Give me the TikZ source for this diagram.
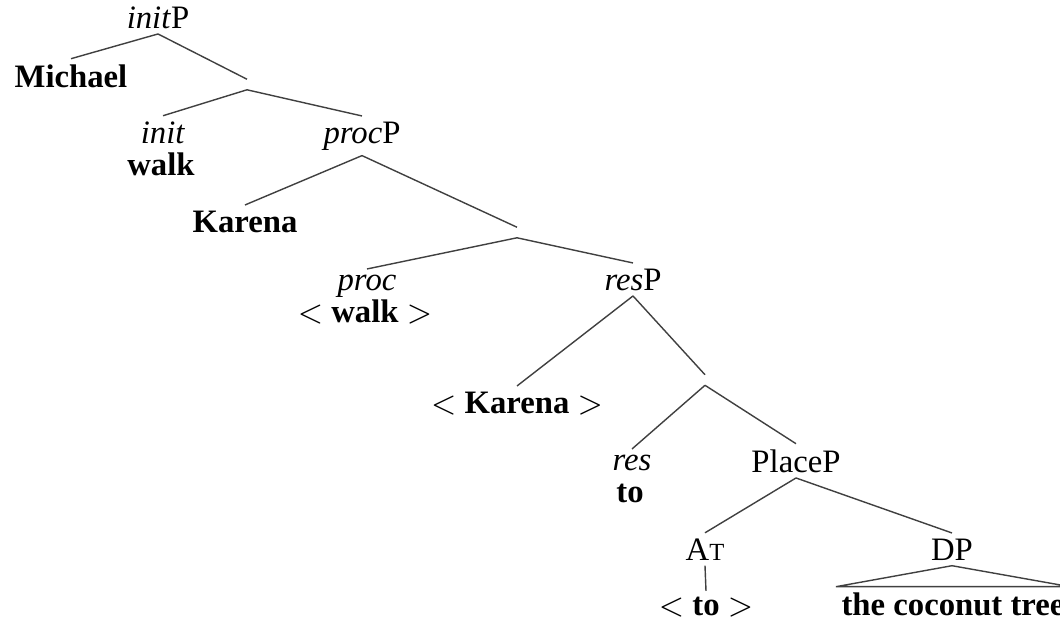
\documentclass[tikz,border=0pt]{standalone}
\usepackage{fontspec}
\setmainfont{Liberation Serif}
\usetikzlibrary{positioning}

\begin{document}
\begin{tikzpicture}[x=0.01cm, y=-0.01cm,
    font=\fontsize{9.3}{9.3}\selectfont,
    cat/.style={inner sep=1.4pt, anchor=base},
    word/.style={inner sep=1.4pt, anchor=base, font=\fontsize{9.3}{9.3}\selectfont\bfseries},
    bar/.style={inner sep=0pt, minimum height=2.6pt, minimum width=0pt},
    branch/.style={draw=black!75, line width=0.4pt}]
  \useasboundingbox (0,0) rectangle (1060,620);
  \clip (0,0) rectangle (1060,620);

  % --- initP ---
  \node[cat] (initP) at (158,28) {\textit{init}P};
  \node[word] (michael) at (71,87) {Michael};
  \node[bar] (b1) at (247,84.5) {};
  \node[cat] (init) at (163,143) {\textit{init}};
  \node[word] (walk) at (161,175) {walk};

  % --- procP ---
  \node[cat] (procP) at (362,143) {\textit{proc}P};
  \node[word] (karena) at (245,232) {Karena};
  \node[bar] (b2) at (517,232.5) {};
  \node[cat] (proc) at (367,290) {\textit{proc}};
  \node[word] (walkcopy) at (365,322) {$<$ walk $>$};

  % --- resP ---
  \node[cat] (resP) at (633,290) {\textit{res}P};
  \node[word] (karenacopy) at (517,413) {$<$ Karena $>$};
  \node[bar] (b3) at (705,380) {};
  \node[cat] (res) at (632,470) {\textit{res}};
  \node[word] (to) at (630,502) {to};

  % --- PlaceP ---
  \node[cat] (placeP) at (796,472) {PlaceP};
  \node[cat] (at) at (705,560) {A{\fontsize{7}{7}\selectfont T}};
  \node[word] (tocopy) at (706,615) {$<$ to $>$};
  \node[cat] (DP) at (952,560) {DP};
  \node[word] (tree) at (953,615) {the coconut tree};

  % Branches
  \draw[branch] (initP.south) -- (michael.north);
  \draw[branch] (initP.south) -- (b1.north);
  \draw[branch] (b1.south) -- (init.north);
  \draw[branch] (b1.south) -- (procP.north);
  \draw[branch] (procP.south) -- (karena.north);
  \draw[branch] (procP.south) -- (b2.north);
  \draw[branch] (b2.south) -- (proc.north);
  \draw[branch] (b2.south) -- (resP.north);
  \draw[branch] (resP.south) -- (karenacopy.north);
  \draw[branch] (resP.south) -- (b3.north);
  \draw[branch] (b3.south) -- (res.north);
  \draw[branch] (b3.south) -- (placeP.north);
  \draw[branch] (placeP.south) -- (at.north);
  \draw[branch] (placeP.south) -- (DP.north);
  \draw[branch] (at.south) -- (tocopy.north);

  % Triangle over the DP
  \draw[branch] (DP.south) -- (tree.north west) -- (tree.north east) -- cycle;
\end{tikzpicture}
\end{document}
